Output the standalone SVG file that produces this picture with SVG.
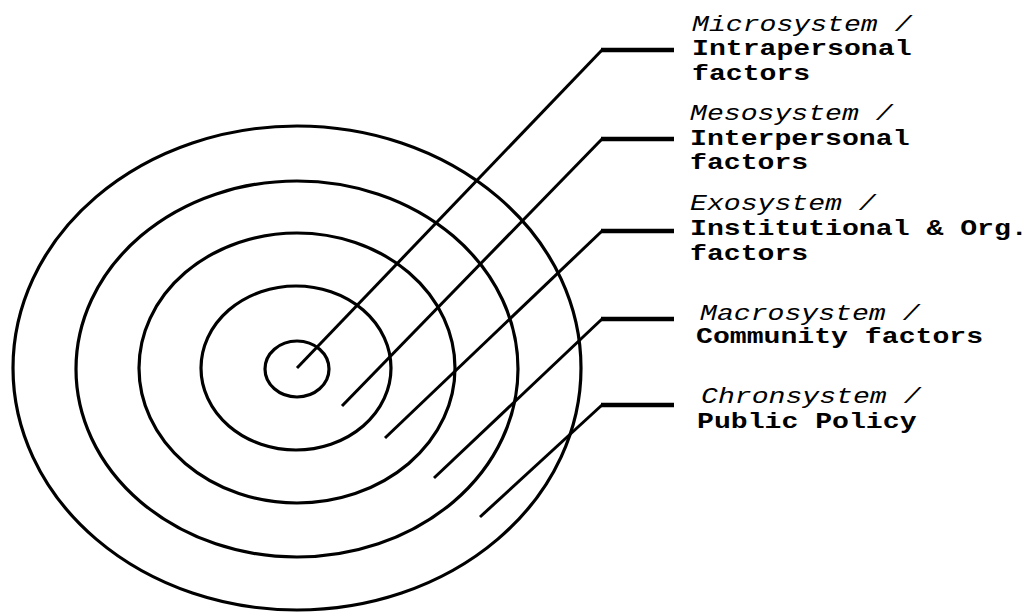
<svg xmlns="http://www.w3.org/2000/svg" width="1031" height="612" viewBox="0 0 1031 612">
<style>
.ring{fill:none;stroke:#000;stroke-width:3.2}
.lead{fill:none;stroke:#000;stroke-width:3;stroke-linejoin:round;stroke-linecap:butt}
.bar{fill:none;stroke:#000;stroke-width:4.5}
text{font-family:"Liberation Mono","Courier New",monospace;font-size:22px;fill:#000}
.it{font-style:italic}
.bd{font-weight:bold}
</style>
<rect width="1031" height="612" fill="#fff"/>
<g id="rings">
<ellipse id="ring-micro" class="ring" cx="297" cy="369" rx="32" ry="28"/>
<ellipse id="ring-meso" class="ring" cx="296" cy="368" rx="95" ry="82"/>
<ellipse id="ring-exo" class="ring" cx="297" cy="368" rx="158" ry="135"/>
<ellipse id="ring-macro" class="ring" cx="297" cy="369" rx="221" ry="188"/>
<ellipse id="ring-chrono" class="ring" cx="297" cy="368" rx="284" ry="242"/>
</g>
<g id="connectors">
<polyline class="lead" points="297,368 602,50"/>
<polyline class="lead" points="342,406 602,139"/>
<polyline class="lead" points="385,438 602,231"/>
<polyline class="lead" points="434,478 602,319"/>
<polyline class="lead" points="480,517 602,405"/>
<line class="bar" x1="601" y1="50" x2="674" y2="50"/>
<line class="bar" x1="601" y1="139" x2="674" y2="139"/>
<line class="bar" x1="601" y1="231" x2="674" y2="231"/>
<line class="bar" x1="601" y1="319" x2="674" y2="319"/>
<line class="bar" x1="601" y1="405" x2="674" y2="405"/>
</g>
<g id="label-micro">
<text class="it" transform="translate(692,31) scale(1.28,1)">Microsystem /</text>
<text class="bd" transform="translate(692,55) scale(1.28,1)">Intrapersonal</text>
<text class="bd" transform="translate(692,80) scale(1.28,1)">factors</text>
</g>
<g id="label-meso">
<text class="it" transform="translate(690,120) scale(1.28,1)">Mesosystem /</text>
<text class="bd" transform="translate(690,145) scale(1.28,1)">Interpersonal</text>
<text class="bd" transform="translate(690,169) scale(1.28,1)">factors</text>
</g>
<g id="label-exo">
<text class="it" transform="translate(690,210) scale(1.28,1)">Exosystem /</text>
<text class="bd" transform="translate(690,235) scale(1.28,1)">Institutional &amp; Org.</text>
<text class="bd" transform="translate(690,260) scale(1.28,1)">factors</text>
</g>
<g id="label-macro">
<text class="it" transform="translate(700,320) scale(1.28,1)">Macrosystem /</text>
<text class="bd" transform="translate(696,343) scale(1.28,1)">Community factors</text>
</g>
<g id="label-chrono">
<text class="it" transform="translate(701,403) scale(1.28,1)">Chronsystem /</text>
<text class="bd" transform="translate(697,428) scale(1.28,1)">Public Policy</text>
</g>
</svg>
